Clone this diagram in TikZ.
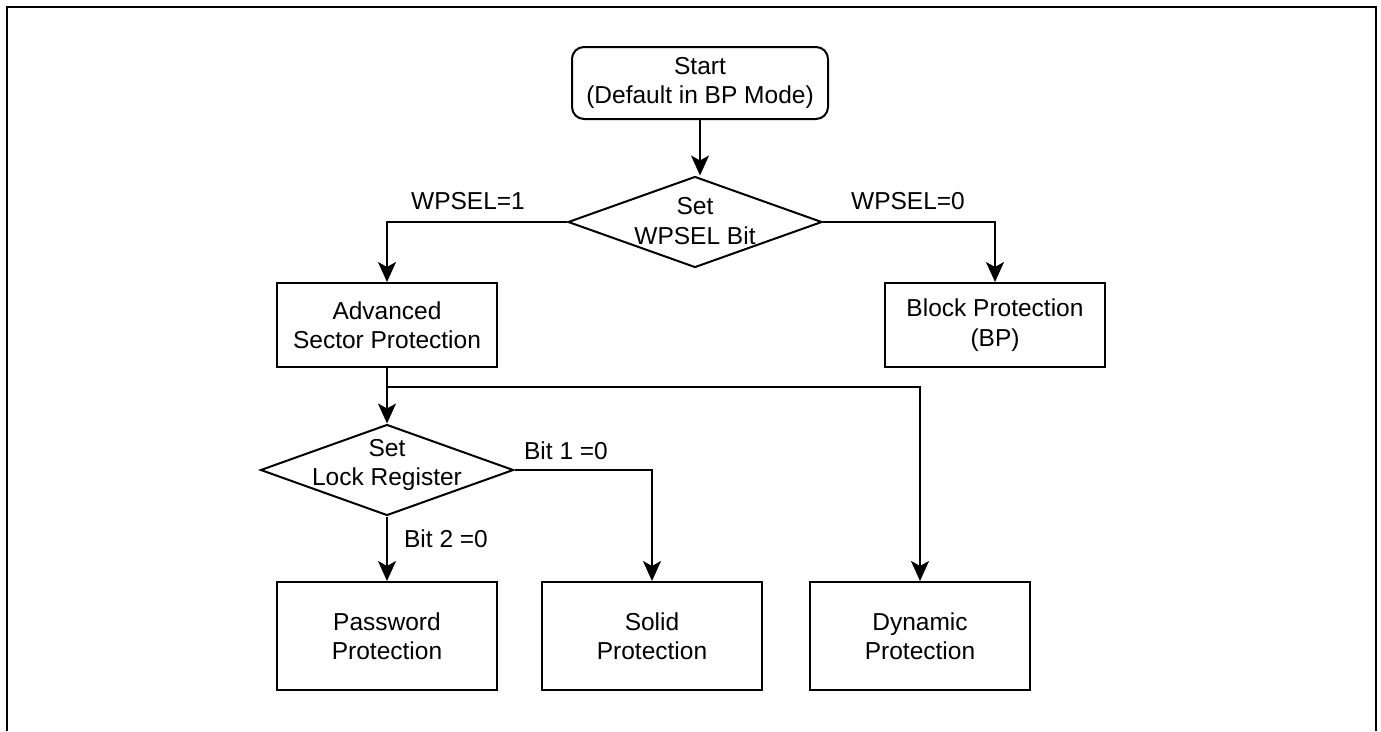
\documentclass[tikz,border=0pt]{standalone}
\usepackage{fontspec}
\setmainfont{Liberation Sans}
\usetikzlibrary{shapes.geometric,arrows.meta}
\begin{document}
\begin{tikzpicture}[x=1pt,y=-1pt,line width=2pt,font=\fontsize{24.5}{29.5}\selectfont,
  >={Stealth[length=20pt,width=18pt,inset=5pt]},
  bx/.style={draw,line width=2pt,minimum width=220pt,minimum height=84pt,align=center,inner sep=0pt},
  dm/.style={draw,line width=2pt,diamond,minimum width=254pt,minimum height=91pt,inner sep=0pt},
  lbl/.style={align=center,inner sep=0pt}]
  \useasboundingbox (0,0) rectangle (1381,731);
  \draw (7,731) -- (7,7) -- (1376,7) -- (1376,731);
  % top part
  \node[bx,rounded corners=12pt,minimum width=256pt,minimum height=72pt] (start) at (700,83){Start\\(Default in BP Mode)};
  \node[dm] (sel) at (695,222){};
  \node[lbl] (seltxt) at (695,221){Set\\WPSEL Bit};
  \node[bx] (asp) at (387,325){Advanced\\Sector Protection};
  \node[bx] (bpm) at (995,325){Block Protection\\(BP)};
  \node[lbl] (w1) at (468,201){WPSEL=1};
  \node[lbl] (w0) at (908,201){WPSEL=0};
  % lower part
  \node[dm,minimum width=253pt] (lock) at (387,470){};
  \node[lbl] (locktxt) at (387,465){Set\\Lock Register};
  \node[bx,minimum height=108pt] (pwd) at (387,636){Password\\Protection};
  \node[bx,minimum height=108pt] (sol) at (652,636){Solid\\Protection};
  \node[bx,minimum height=108pt] (dyn) at (920,636){Dynamic\\Protection};
  \node[lbl] (b1) at (566,451){Bit 1 =0};
  \node[lbl] (b2) at (446,539){Bit 2 =0};
  \coordinate (br) at (387,387);
  % connectors
  \draw[->] (start) -- (start|-sel.north);
  \draw[->] (sel.west) -| (asp.north);
  \draw[->] (sel.east) -| (bpm.north);
  \draw[->] (asp.south) -- (lock.north);
  \draw[->] (br) -| (dyn.north);
  \draw[->] (lock.east) -| (sol.north);
  \draw[->] (lock.south) -- (pwd.north);
\end{tikzpicture}
\end{document}
